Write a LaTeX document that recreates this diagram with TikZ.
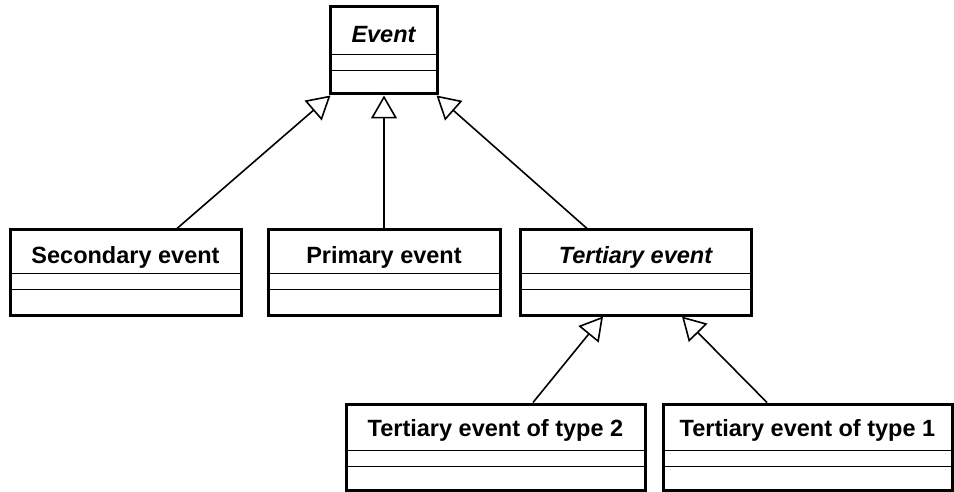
\documentclass[tikz,border=0pt]{standalone}
\usepackage{fontspec}
\setmainfont{Liberation Sans}
\usetikzlibrary{arrows.meta}

% One UML class: #1 name, #2 centre, #3 width, #4 height,
% #5 baseline offset of the title, #6 first and #7 second separator offset, #8 title
\newcommand\umlklass[8]{%
  \node[classframe, minimum width=#3pt, minimum height=#4pt] (#1) at (#2) {};
  \node[classtitle] (#1-title) at ([yshift=-#5pt]#1.north) {#8};
  \draw[sepline] ([yshift=-#6pt]#1.north west) -- ([yshift=-#6pt]#1.north east);
  \draw[sepline] ([yshift=-#7pt]#1.north west) -- ([yshift=-#7pt]#1.north east);
}

\begin{document}
\begin{tikzpicture}[
    x=1pt, y=-1pt,
    classframe/.style={draw, rectangle, line width=3pt, inner sep=0pt, fill=white},
    classtitle/.style={anchor=base, inner sep=0pt,
      font=\fontsize{23.5}{26}\selectfont\bfseries},
    sepline/.style={line width=1.5pt},
    inherits/.style={line width=1.6pt, -{Triangle[open, length=23pt, width=26pt]}},
  ]
  \fill[white] (0,0) rectangle (954,492);
  \useasboundingbox (0,0) rectangle (954,492);

  % abstract root class
  \umlklass{ev}{383.5,50.5}{107}{87}{37}{49}{65}{\itshape Event}

  % first level
  \umlklass{sec}{125.5,272.5}{231}{85}{35}{45}{61}{Secondary event}
  \umlklass{pri}{384,272.5}{232}{85}{35}{45}{61}{Primary event}
  \umlklass{ter}{635.5,272.5}{231}{85}{35}{45}{61}{\itshape Tertiary event}

  % second level
  \umlklass{tt2}{495.5,447}{299}{86}{34}{48}{64}{Tertiary event of type 2}
  \umlklass{tt1}{807.5,447}{289}{86}{34}{48}{64}{Tertiary event of type 1}

  % generalisations
  \draw[inherits] ([xshift=51.5pt]sec.north) -- ([xshift=2pt]ev.south west);
  \draw[inherits] (pri.north) -- (pri.north |- ev.south);
  \draw[inherits] ([xshift=-48.5pt]ter.north) -- ([xshift=-2pt]ev.south east);
  \draw[inherits] ([xshift=37.5pt]tt2.north) -- ([xshift=-32.5pt]ter.south);
  \draw[inherits] ([xshift=-40.5pt]tt1.north) -- ([xshift=46.5pt]ter.south);
\end{tikzpicture}
\end{document}
